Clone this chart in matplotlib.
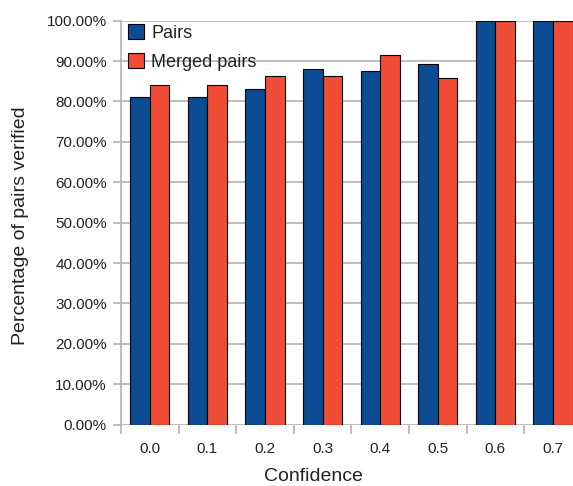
import numpy as np
import matplotlib
matplotlib.use('Agg')
import matplotlib.pyplot as plt
from matplotlib.ticker import FuncFormatter, FixedLocator

# Data
confidence = ['0.0', '0.1', '0.2', '0.3', '0.4', '0.5', '0.6', '0.7']
pairs = [81.1, 81.1, 83.0, 87.9, 87.6, 89.3, 100.0, 100.0]
merged_pairs = [84.0, 84.0, 86.4, 86.4, 91.5, 85.8, 100.0, 100.0]

plt.rcParams['font.family'] = ['Liberation Sans', 'DejaVu Sans']

W, H = 573, 486
fig = plt.figure(figsize=(W / 100, H / 100), dpi=100)

# axes extends past the right edge, like the reference (cut off)
left, right, bottom, top = 121, 581.8, 424.7, 20.6
ax = fig.add_axes([left / W, (H - bottom) / H, (right - left) / W, (bottom - top) / H])

x = np.arange(len(confidence))
bw = 0.34
blue = '#0b4c94'
red = '#f14d36'
ax.bar(x - bw / 2, pairs, bw, color=blue, edgecolor='black', linewidth=0.8,
       label='Pairs', zorder=3)
ax.bar(x + bw / 2, merged_pairs, bw, color=red, edgecolor='black', linewidth=0.8,
       label='Merged pairs', zorder=3)

ax.set_xlim(-0.5, len(confidence) - 0.5)
ax.set_ylim(0, 100)
ax.set_yticks(np.arange(0, 101, 10))
ax.yaxis.set_major_formatter(FuncFormatter(lambda v, p: f'{v:.2f}%'))
ax.set_xticks(x)
ax.set_xticklabels(confidence)
ax.xaxis.set_minor_locator(FixedLocator(np.arange(len(confidence)) - 0.5))

grid_c = '#b3b3b3'
ax.grid(axis='y', color=grid_c, linewidth=1.2, zorder=0)
for s in ['top', 'right', 'bottom']:
    ax.spines[s].set_visible(False)
ax.spines['left'].set_color(grid_c)
ax.spines['left'].set_linewidth(1.2)

ax.tick_params(axis='y', length=5.8, width=1.2, color=grid_c, pad=4.3,
               labelsize=11, labelcolor='#222222')
ax.tick_params(axis='x', which='major', length=0, pad=12.5, labelsize=11,
               labelcolor='#222222')
ax.tick_params(axis='x', which='minor', length=6.7, width=1.2, color=grid_c)

fig.text(21 / W, 1 - 226 / H, 'Percentage of pairs verified', rotation=90,
         ha='center', va='center', fontsize=14, color='#222222')
fig.text(313 / W, 1 - 476 / H, 'Confidence', ha='center', va='center',
         fontsize=14, color='#222222')

leg = ax.legend(loc='upper left', bbox_to_anchor=(128 / W, 1 - 24 / H),
                bbox_transform=fig.transFigure, frameon=False, fontsize=13,
                handlelength=0.89, handleheight=0.89, handletextpad=0.4,
                labelspacing=0.62, borderaxespad=0, borderpad=0)
for t in leg.get_texts():
    t.set_color('#222222')

fig.savefig('out.png', dpi=100)
